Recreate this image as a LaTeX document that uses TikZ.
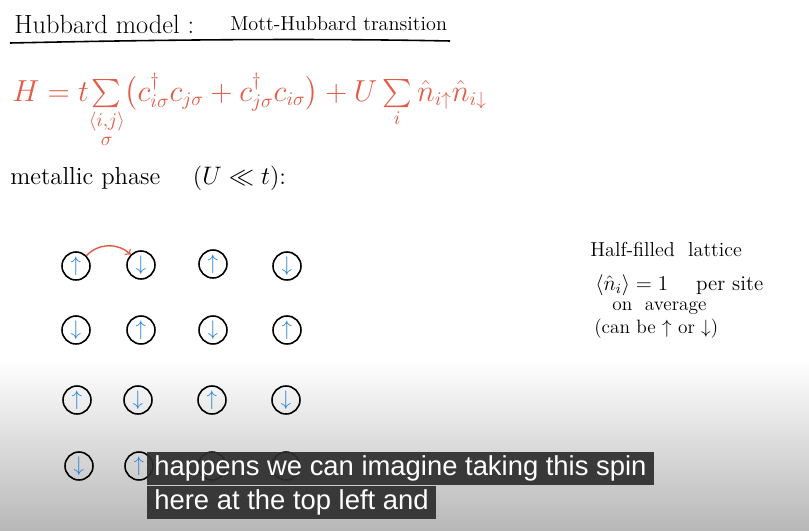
\documentclass[tikz,border=0pt]{standalone}
\usepackage{amsmath}
\usepackage{amssymb}
\usepackage{fontspec}
\newfontfamily\capfont{Liberation Sans}
\definecolor{hred}{RGB}{226,92,72}
\definecolor{spinblue}{RGB}{40,130,215}
\definecolor{capbg}{RGB}{45,45,45}

\begin{document}
\begin{tikzpicture}[x=0.02cm,y=-0.02cm]
  \tikzstyle{site}=[circle,draw=black,line width=0.9pt,minimum size=0.56cm,inner sep=0pt,text=spinblue,font=\large]
  \tikzstyle{hand}=[inner sep=0pt,anchor=base west]
  \tikzstyle{caption}=[fill=capbg,fill opacity=0.92,text opacity=1,text=white,font=\capfont\fontsize{15.6}{18}\selectfont,anchor=north west,inner xsep=4pt,inner ysep=0pt,minimum height=0.66cm]
  \useasboundingbox (0,0) rectangle (809,531);
  \fill[white] (0,0) rectangle (809,531);
  \shade[top color=white,bottom color=black!28] (0,360) rectangle (809,531);

  % heading
  \node[hand,font=\fontsize{15}{18}\selectfont] (title) at (14,33) {Hubbard model :};
  \node[hand,font=\fontsize{11.5}{14}\selectfont] (sub) at (230,30) {Mott-Hubbard transition};
  \draw[line width=0.9pt] (10,43) .. controls (150,40) and (300,38) .. (450,41);

  % Hamiltonian
  \node[hand,text=hred,font=\fontsize{16}{19}\selectfont] (ham) at (12,101)
    {$H = t\!\sum\limits_{\substack{\langle i,j\rangle\\[2pt] \sigma}} \bigl(c^\dagger_{i\sigma}c_{j\sigma} + c^\dagger_{j\sigma}c_{i\sigma}\bigr) + U\sum\limits_{i}\hat n_{i\uparrow}\hat n_{i\downarrow}$};

  \node[hand,font=\fontsize{14}{16}\selectfont] (phase) at (10,184) {metallic phase \quad ($U\ll t$):};

  % lattice
  \node[site] (s11) at (76,266)  {$\uparrow$};
  \node[site] (s12) at (141,265) {$\downarrow$};
  \node[site] (s13) at (213,264) {$\uparrow$};
  \node[site] (s14) at (287,266) {$\downarrow$};
  \node[site] (s21) at (76,330)  {$\downarrow$};
  \node[site] (s22) at (141,330) {$\uparrow$};
  \node[site] (s23) at (213,330) {$\downarrow$};
  \node[site] (s24) at (287,330) {$\uparrow$};
  \node[site] (s31) at (77,400)  {$\uparrow$};
  \node[site] (s32) at (138,400) {$\downarrow$};
  \node[site] (s33) at (212,400) {$\uparrow$};
  \node[site] (s34) at (286,400) {$\downarrow$};
  \node[site] (s41) at (79,466)  {$\downarrow$};
  \node[site] (s42) at (139,466) {$\uparrow$};
  \node[site] (s43) at (212,466) {$\downarrow$};
  \node[site] (s44) at (286,466) {$\downarrow$};
  \draw[hred,line width=0.8pt,->] (s11.north east) to[bend left=45] (s12.north west);

  % note
  \node[hand,font=\fontsize{11.5}{14}\selectfont] (fill) at (590,256) {Half-filled \ lattice};
  \node[hand,font=\fontsize{12}{14}\selectfont] (avg) at (595,290) {$\langle\hat n_i\rangle = 1$ \quad per site};
  \node[hand,font=\fontsize{11}{13}\selectfont] (on) at (612,310) {on \ average};
  \node[hand,font=\fontsize{11}{13}\selectfont] (can) at (594,333) {(can be $\uparrow$ or $\downarrow$)};

  % subtitles
  \node[caption] (cap1) at (147,452) {happens we can imagine taking this spin};
  \node[caption] (cap2) at (147,486) {here at the top left and};
\end{tikzpicture}
\end{document}
